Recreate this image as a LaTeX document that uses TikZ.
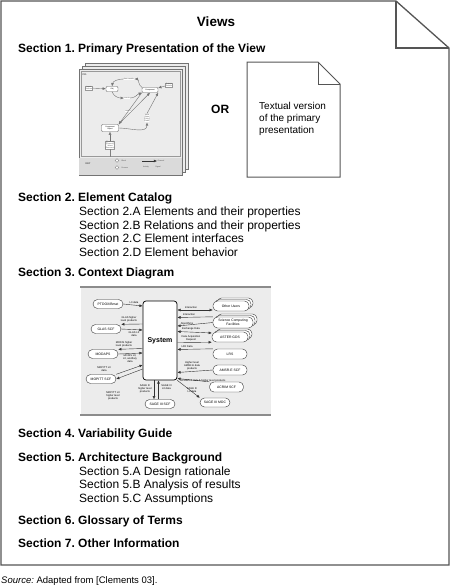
\documentclass[tikz,border=0pt]{standalone}
\usepackage{fontspec}
\setmainfont{Liberation Sans}
\usetikzlibrary{arrows.meta,shapes.geometric}
\definecolor{pagegray}{HTML}{555555}
\definecolor{bggray}{HTML}{ECECEC}
\definecolor{keygray}{HTML}{DADADA}
\definecolor{rulegray}{HTML}{8C8C8C}
\frenchspacing
\begin{document}
\begin{tikzpicture}[x=1pt,y=-1pt,
  pageline/.style={draw=pagegray,line width=1.3pt,line join=miter},
  sec/.style={anchor=base west,inner sep=0,font=\bfseries\fontsize{12}{14}\selectfont},
  sub/.style={anchor=base west,inner sep=0,font=\fontsize{12}{14}\selectfont},
  doctxt/.style={anchor=base west,inner sep=0,font=\fontsize{10}{12}\selectfont},
  minipg/.style={draw=black!55,fill=bggray,line width=0.6pt},
  mnode/.style={draw=black!60,fill=white,rounded corners=1pt,minimum width=12pt,minimum height=5pt,inner sep=0.3pt,font=\fontsize{1.8}{2}\selectfont,align=center},
  mtxt/.style={inner sep=0.3pt,font=\fontsize{1.8}{2.1}\selectfont,align=center,text=black!70},
  marr/.style={-{Latex[length=3.2pt,width=2.8pt]},draw=black!55,line width=0.4pt},
  ext/.style={draw=black!80,fill=white,rounded corners=4.5pt,minimum width=30pt,minimum height=9pt,inner sep=0.5pt,line width=0.4pt,font=\fontsize{3.4}{3.8}\selectfont,align=center},
  rext/.style={ext,minimum width=36pt,minimum height=10pt},
  lbl/.style={inner sep=0.2pt,font=\fontsize{2.6}{3}\selectfont,align=center},
  carr/.style={-{Latex[length=3.2pt,width=2.8pt]},draw=black!80,line width=0.4pt},
  carrb/.style={{Latex[length=3.2pt,width=2.8pt]}-{Latex[length=3.2pt,width=2.8pt]},draw=black!80,line width=0.4pt}
]
\useasboundingbox (0,0) rectangle (450,587);
\fill[white] (0,0) rectangle (450,587);

% outer page with folded corner
\draw[pageline] (1,1) -- (396,1) -- (449,48) -- (449,565) -- (1,565) -- cycle;
\draw[pageline] (396,1) -- (396,48) -- (449,48);

\node[anchor=base,inner sep=0,font=\bfseries\fontsize{13.5}{16}\selectfont] (title) at (216,26) {Views};

\node[sec] (s1) at (18,52.7) {Section 1. Primary Presentation of the View};

% ---- mini stacked figure ----
\draw[minipg] (85,63) rectangle (188,169);
\draw[minipg] (82,66) rectangle (185,172);
\draw[minipg] (79,69) rectangle (182,175);
\fill[keygray] (79.3,158) rectangle (181.7,174.7);
\draw[black!40,line width=0.3pt] (81,71) rectangle (180,156);
\node[mtxt,anchor=west,font=\bfseries\fontsize{2.4}{3}\selectfont] (mfig) at (82,75) {FIG};
\node[mnode] (m1) at (112,89) {Obj};
\node[mnode,minimum width=16pt] (m2) at (150,90) {Component};
\node[mnode,minimum width=17pt,minimum height=7pt] (m3) at (110,128) {Component\\Object};
\node[mtxt,draw=black!40,fill=white] (t1) at (89,88) {Inputs\\Sources};
\node[mtxt,draw=black!40,fill=white] (t2) at (169,85) {Outputs\\Results};
\node[mtxt,draw=black!40,fill=white] (t3) at (110,145) {{[Phase a]}\\{[Phase b]}\\Select\\{[Resource]}};
\node[mtxt,fill=white] (t4) at (147,118) {Mode\\{[State]}\\{[Policy]}\\{[Rules]}};
\node[mtxt,fill=white] (t5) at (129,79) {data transfer};
\node[mtxt,fill=white] (t6) at (127,98) {events};
\node[mtxt,fill=white] (t7) at (128,111) {control};
\draw[marr] (t1) -- (m1);
\draw[marr] (t2) -- (m2);
\draw[marr] (m2.north west) to[out=150,in=0] (t5.east);
\draw[marr] (t5.west) to[out=180,in=80] (m1.north);
\draw[marr] (m1.south) to[out=-70,in=180] (t6.west);
\draw[marr] (t6.east) to[out=0,in=200] (m2.south west);
\draw[marr] (m2.south west) -- (m3.north east);
\draw[marr] (m3.north east) -- (m2.south);
\draw[marr] (m3.east) to[out=0,in=-90] (t4.south);
\draw[marr] (t4.north) -- (m2.south east);
\draw[marr] (t3) -- (m3);
\coordinate (t3d) at (110,157);
\draw[black!50,line width=0.3pt] (t3) -- (t3d);
\node[mtxt,font=\bfseries\fontsize{2.4}{3}\selectfont] (key) at (88,164) {KEY};
\node[circle,draw=black!50,fill=white,minimum size=3.6pt,inner sep=0] (kc1) at (117,160.5) {};
\node[circle,draw=black!50,fill=white,minimum size=3.6pt,inner sep=0] (kc2) at (117,167.5) {};
\node[mtxt,anchor=west] (kt1) at (121,160.5) {Block};
\node[mtxt,anchor=west] (kt2) at (121,167.5) {Process};
\coordinate (ka1) at (142,161);
\node[mtxt,anchor=west] (kt3) at (157,161) {Channel};
\draw[marr,draw=black!80] (ka1) -- (kt3.west);
\node[mtxt] (kt4) at (146,167.5) {Activity};
\node[mtxt] (kt5) at (158,167.5) {Signal};

\node[anchor=base west,inner sep=0,font=\bfseries\fontsize{12}{14}\selectfont] (or) at (211,113.3) {OR};

% ---- textual document page ----
\draw[draw=pagegray,line width=1pt,fill=white] (247,62) -- (318,62) -- (340,84) -- (340,177) -- (247,177) -- cycle;
\draw[draw=pagegray,line width=1pt] (318,62) -- (318,84) -- (340,84);
\node[doctxt] (d1) at (259,109) {Textual version};
\node[doctxt] (d2) at (259,121) {of the primary};
\node[doctxt] (d3) at (259,133) {presentation};

% ---- section 2 ----
\node[sec] (s2) at (18,201.7) {Section 2. Element Catalog};
\node[sub] (s2a) at (79,215) {Section 2.A Elements and their properties};
\node[sub] (s2b) at (79,229) {Section 2.B Relations and their properties};
\node[sub] (s2c) at (79,242.5) {Section 2.C Element interfaces};
\node[sub] (s2d) at (79,256) {Section 2.D Element behavior};

\node[sec] (s3) at (18,276.7) {Section 3. Context Diagram};

% ---- context diagram ----
\fill[bggray] (81,287) rectangle (271,415);
\draw[rulegray,line width=1.1pt] (80,287) -- (271,287);
\draw[rulegray,line width=1.1pt] (80,415) -- (271,415);

\node[draw=black,fill=white,rounded corners=3pt,line width=0.7pt,minimum width=34pt,minimum height=79pt,inner sep=0,font=\bfseries\fontsize{7}{8}\selectfont] (sys) at (160,340.5) {System};

% left externals
\node[ext] (e1) at (108,304) {PTDOX/Bmat};
\node[ext] (e2) at (106,329) {GLAS SCF};
\node[ext] (e3) at (103,354) {MODAPS};
\node[ext] (e4) at (101,379) {MOPITT SCF};
\node[ext] (e5) at (160,404) {SAGE III SCF};
\node[ext] (e6) at (215,402.5) {SAGE III MOC};
% right externals (stacked ones first)
\node[rext] (r1c) at (235,303) {};
\node[rext] (r1b) at (233,304.5) {};
\node[rext] (r1) at (231,306) {Other Users};
\node[rext,minimum width=40pt,minimum height=11pt] (r2c) at (237,319.5) {};
\node[rext,minimum width=40pt,minimum height=11pt] (r2b) at (235,321) {};
\node[rext,minimum width=40pt,minimum height=11pt] (r2) at (233,322.5) {Science Computing\\Facilities};
\node[rext] (r3c) at (234,334) {};
\node[rext] (r3b) at (232,335.5) {};
\node[rext] (r3) at (230,337) {ASTER GDS};
\node[rext,minimum width=34pt] (r4) at (230,354) {LRS};
\node[rext,minimum width=34pt] (r5) at (230,370) {AMSR-E SCF};
\node[rext,minimum width=34pt] (r6) at (226.5,387) {ACRIM SCF};

% left connectors
\draw[carr] (e1.east) -- (sys.west |- 0,306);
\node[lbl] (l1) at (134,302.5) {L0 data};
\draw[carr] (sys.west |- 0,324) -- (e2.north east);
\node[lbl] (l2) at (129,319.5) {GLAS higher\\level products};
\draw[carr] (e2.east) -- (sys.west |- 0,330);
\node[lbl] (l3) at (134,334) {GLAS L0\\data};
\draw[carr] (sys.west |- 0,348.5) -- (e3.north east);
\node[lbl] (l4) at (124,344.5) {MODIS higher\\level products};
\draw[carr] (e3.east) -- (sys.west |- 0,353);
\node[lbl] (l5) at (130,359) {MODIS L0,\\L0, ancillary\\data};
\draw[carr] (e4.north east) -- (sys.west |- 0,365);
\draw[carr] (sys.west |- 0,369) -- (e4.east);
\node[lbl] (l6) at (104,369.5) {MOPITT L0\\data};
\node[lbl] (l7) at (113,396) {MOPITT L0\\higher level\\products};
\draw[carr] (sys.south -| 154,0) -- (e5.north -| 154,0);
\draw[carr] (e5.north -| 158.5,0) -- (sys.south -| 158.5,0);
\node[lbl,anchor=east] (l8) at (152,389) {SAGE III\\higher level\\products};
\node[lbl,anchor=west] (l9) at (161,387.5) {SAGE III\\L0 data};
\draw[carr] (sys.south east) -- (e6.north west);
\node[lbl] (l10) at (192,390.5) {SAGE III\\L0 data};

% right connectors
\draw[carrb] (sys.east |- 0,310) -- (r1.west |- 0,310);
\node[lbl] (l11) at (191,307.5) {Interaction};
\draw[carr] (r2.north west) -- (sys.east |- 0,317.5);
\node[lbl] (l12) at (189,315) {Interaction};
\draw[carr] (r2.west) -- (sys.east |- 0,326);
\node[lbl] (l13) at (187,323.5) {Algorithms};
\draw[carrb] (sys.east |- 0,331.5) -- (r3.west |- 0,333);
\node[lbl] (l14) at (191,329) {Exchange Data};
\draw[carr] (sys.east |- 0,342.5) -- (r3.south west);
\node[lbl] (l15) at (191,338.5) {Data Acquisition\\Request};
\draw[carr] (r4.north west) -- (sys.east |- 0,349.5);
\node[lbl] (l16) at (187,346.8) {L0R Data};
\draw[carr] (r5.west) -- (sys.east |- 0,372.5);
\node[lbl] (l17) at (192,366) {Higher level\\AMSR-E data\\products};
\draw[carr] (r6.north west) -- (sys.east |- 0,378.5);
\node[lbl,anchor=west] (l18) at (180,381.3) {ACRIM L0 data \& higher level products};

% ---- remaining sections ----
\node[sec] (s4) at (18,437.7) {Section 4. Variability Guide};
\node[sec] (s5) at (18,461) {Section 5. Architecture Background};
\node[sub] (s5a) at (79,475) {Section 5.A Design rationale};
\node[sub] (s5b) at (79,488.7) {Section 5.B Analysis of results};
\node[sub] (s5c) at (79,502.3) {Section 5.C Assumptions};
\node[sec] (s6) at (18,524.3) {Section 6. Glossary of Terms};
\node[sec] (s7) at (18,547.7) {Section 7. Other Information};

\node[anchor=base west,inner sep=0,font=\fontsize{9.5}{11}\selectfont] (src) at (1,583.3) {\textit{Source:} Adapted from [Clements 03].};
\end{tikzpicture}
\end{document}
